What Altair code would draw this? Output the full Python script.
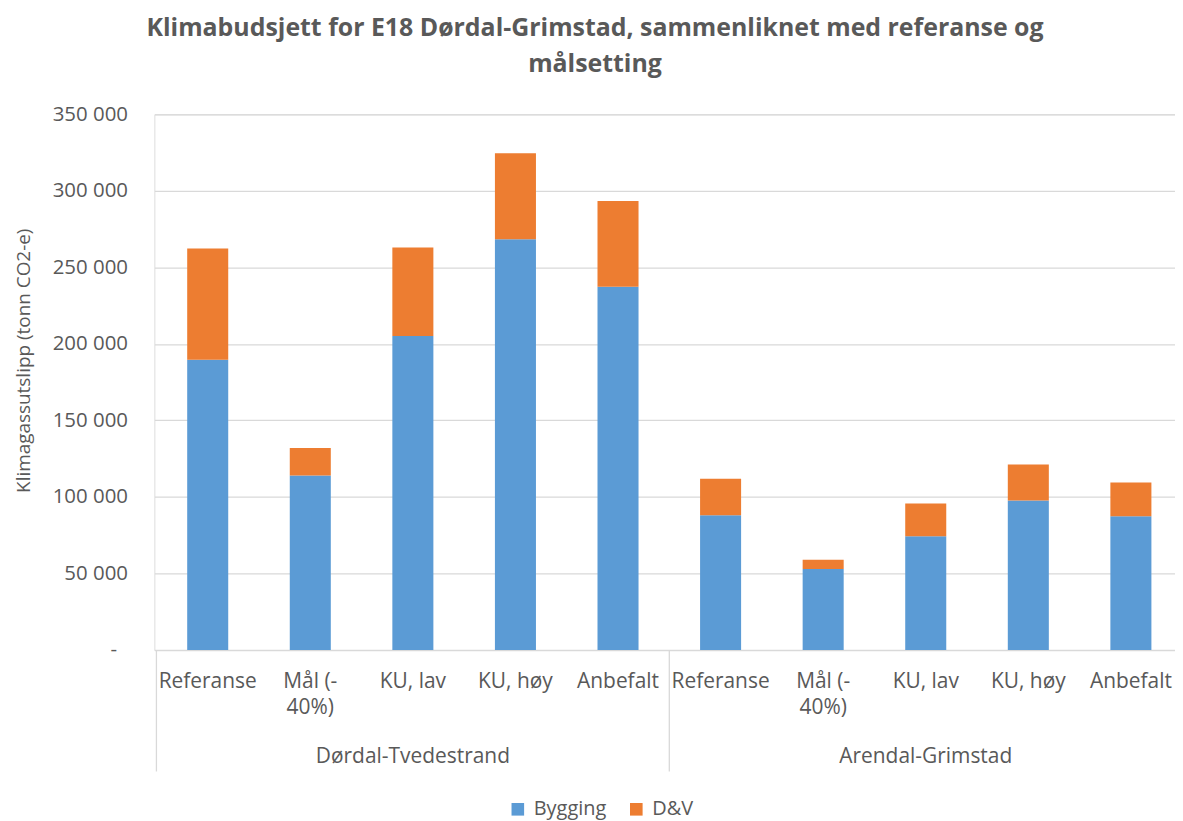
import altair as alt
import pandas as pd

# ---- data ----
groups = ["Dørdal-Tvedestrand", "Arendal-Grimstad"]
categories = ["Referanse", "Mål (-\n40%)", "KU, lav", "KU, høy", "Anbefalt"]
series = ["Bygging", "D&V"]
colors = ["#5B9BD5", "#ED7D31"]
bygging_dt = [189600, 114000, 205200, 268400, 237300]
dv_dt = [72700, 18000, 57800, 56100, 56000]
bygging_ag = [88100, 52900, 74300, 97700, 87300]
dv_ag = [23800, 6000, 21400, 23500, 22200]
y_ticks = [0, 50000, 100000, 150000, 200000, 250000, 300000, 350000]

title_lines = ["Klimabudsjett for E18 Dørdal-Grimstad, sammenliknet med referanse og", "målsetting"]
y_title = "Klimagassutslipp (tonn CO2-e)"

FONT = "Open Sans"
TXT = "#595959"
GRID = "#D9D9D9"
W, H = 1025, 538

# ---- tables built from the lists ----
bygg = [bygging_dt, bygging_ag]
dv = [dv_dt, dv_ag]
bar_rows, cat_rows, grp_rows, sep_rows = [], [], [], []
n = len(categories)
for gi, g in enumerate(groups):
    sep_rows.append({"p": gi * n - 0.5})
    grp_rows.append({"p": gi * n + (n - 1) / 2, "label": g})
    for ci, c in enumerate(categories):
        pos = gi * n + ci
        b = bygg[gi][ci]
        d = dv[gi][ci]
        bar_rows.append({"x0": pos - 0.2, "x1": pos + 0.2, "y0": 0, "y1": b, "serie": series[0]})
        bar_rows.append({"x0": pos - 0.2, "x1": pos + 0.2, "y0": b, "y1": b + d, "serie": series[1]})
        cat_rows.append({"p": pos, "label": c})

bars_df = pd.DataFrame(bar_rows)
cat_df = pd.DataFrame(cat_rows)
grp_df = pd.DataFrame(grp_rows)
sep_df = pd.DataFrame(sep_rows)

xscale = alt.Scale(domain=[-0.52, 9.43], nice=False, zero=False)
yscale = alt.Scale(domain=[0, 350000], nice=False)

yaxis = alt.Axis(
    values=y_ticks,
    labelExpr="datum.value == 0 ? '-' : replace(format(datum.value, ',d'), ',', ' ')",
    labelFont=FONT, labelFontSize=20.5, labelColor=TXT,
    labelPadding={"condition": {"test": "datum.value == 0", "value": 38}, "value": 27},
    ticks=False, domain=False,
    grid=True, gridColor=GRID, gridWidth=1.3,
    title=y_title, titleFont=FONT, titleFontSize=19, titleColor=TXT,
    titleFontWeight="normal", titleX=-121, titleY=247,
)

bars = alt.Chart(bars_df).mark_bar().encode(
    x=alt.X("x0:Q", scale=xscale, axis=None),
    x2="x1:Q",
    y=alt.Y("y0:Q", scale=yscale, axis=yaxis),
    y2="y1:Q",
    color=alt.Color(
        "serie:N",
        scale=alt.Scale(domain=series, range=colors),
        legend=alt.Legend(
            orient="none", legendX=355, legendY=688, direction="horizontal",
            title=None, symbolType="square", symbolSize=160, symbolStrokeWidth=0,
            labelFont=FONT, labelFontSize=20, labelColor=TXT, labelOffset=6,
            columnPadding=20, padding=0,
        ),
    ),
)

seps = alt.Chart(sep_df).mark_rule(color=GRID, strokeWidth=1.3).encode(
    x=alt.X("p:Q", scale=xscale, axis=None),
    y=alt.value(H),
    y2=alt.value(H + 122),
)

cat_text = alt.Chart(cat_df).mark_text(
    baseline="alphabetic", align="center", lineBreak="\n", lineHeight=26,
    font=FONT, fontSize=21, color=TXT,
).encode(
    x=alt.X("p:Q", scale=xscale, axis=None),
    y=alt.value(576),
    text="label:N",
)

grp_text = alt.Chart(grp_df).mark_text(
    baseline="alphabetic", align="center", font=FONT, fontSize=21, color=TXT,
).encode(
    x=alt.X("p:Q", scale=xscale, axis=None),
    y=alt.value(651),
    text="label:N",
)

chart = alt.layer(bars, seps, cat_text, grp_text).properties(
    width=W, height=H,
    title=alt.TitleParams(
        text=title_lines, font=FONT, fontSize=25, fontWeight="bold", color=TXT,
        anchor="middle", frame="bounds", lineHeight=37, offset=27,
    ),
    autosize=alt.AutoSizeParams(type="none"),
    padding={"left": 147, "top": 105, "right": 0, "bottom": 170},
).configure_view(stroke=None).configure(background="white")

chart.save("out.html", embed_options={"renderer": "svg", "actions": False})
